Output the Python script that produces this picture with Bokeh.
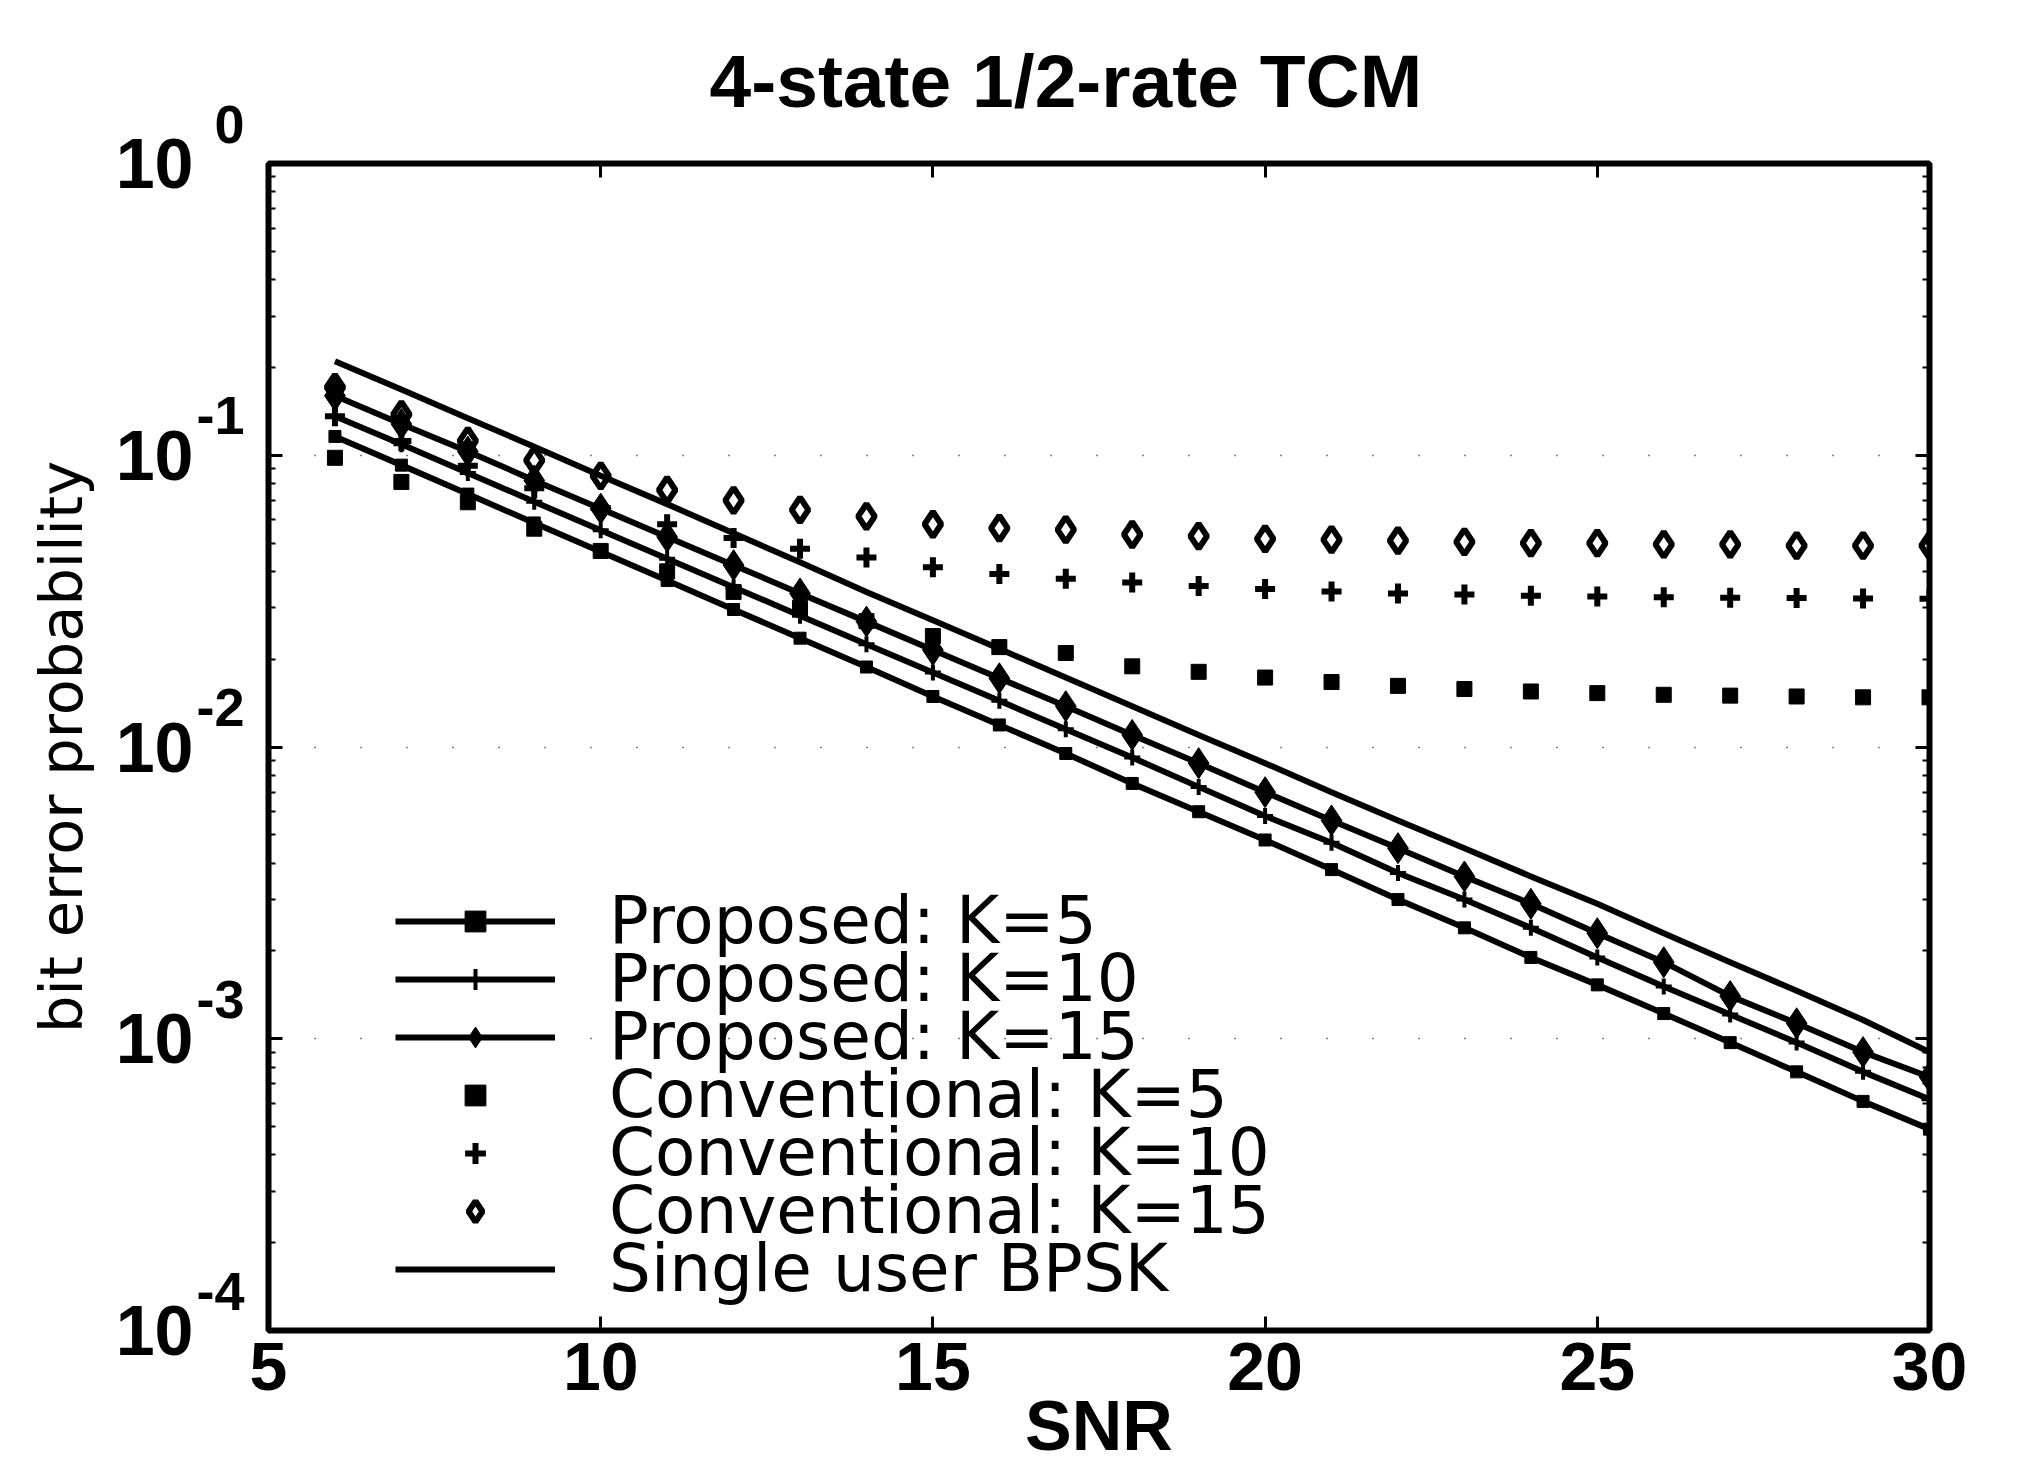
from bokeh.plotting import figure
from bokeh.models import (LinearAxis, LogAxis, FixedTicker, LogTicker,
                          Legend, LegendItem, CustomJSTickFormatter)
from bokeh.embed import file_html
from bokeh.resources import INLINE

# ---------------- data ----------------
snr = [6, 7, 8, 9, 10, 11, 12, 13, 14, 15, 16, 17, 18, 19, 20,
       21, 22, 23, 24, 25, 26, 27, 28, 29, 30]

prop_k5 = [0.116, 0.0925, 0.0736, 0.0586, 0.0467, 0.0372, 0.0296, 0.0236, 0.0188,
           0.0149, 0.0119, 0.0095, 0.0075, 0.0060, 0.0048, 0.0038, 0.0030, 0.0024,
           0.0019, 0.00153, 0.00122, 0.00097, 0.00077, 0.00061, 0.00049]
prop_k10 = [0.136, 0.109, 0.087, 0.0693, 0.0553, 0.0442, 0.0353, 0.0282, 0.0225,
            0.0180, 0.0144, 0.0115, 0.0092, 0.0073, 0.0058, 0.0047, 0.0037, 0.0030,
            0.0024, 0.0019, 0.00151, 0.00121, 0.00097, 0.00077, 0.00062]
prop_k15 = [0.160, 0.128, 0.103, 0.082, 0.0656, 0.0525, 0.0420, 0.0336, 0.0269,
            0.0215, 0.0172, 0.0138, 0.0110, 0.0088, 0.0070, 0.0056, 0.0045, 0.0036,
            0.0029, 0.0023, 0.00183, 0.00140, 0.00113, 0.00090, 0.00074]
conv_k5 = [0.098, 0.081, 0.069, 0.056, 0.047, 0.040, 0.034, 0.030, 0.027, 0.024,
           0.022, 0.021, 0.0189, 0.0181, 0.0173, 0.0167, 0.0162, 0.0158, 0.0155,
           0.0153, 0.0151, 0.0150, 0.0149, 0.0148, 0.0148]
conv_k10 = [0.136, 0.112, 0.092, 0.077, 0.066, 0.058, 0.052, 0.0478, 0.0446, 0.0413,
            0.0392, 0.0377, 0.0366, 0.0356, 0.0348, 0.0341, 0.0336, 0.0333, 0.0330,
            0.0328, 0.0326, 0.0325, 0.0324, 0.0323, 0.0322]
conv_k15 = [0.171, 0.138, 0.112, 0.096, 0.085, 0.076, 0.070, 0.065, 0.0617, 0.058,
            0.0563, 0.0556, 0.0535, 0.0528, 0.0517, 0.0514, 0.0510, 0.0505, 0.0500,
            0.0500, 0.0495, 0.0495, 0.0490, 0.0490, 0.0490]
bpsk = [0.210, 0.168, 0.134, 0.107, 0.085, 0.068, 0.054, 0.043, 0.034, 0.0272,
        0.0217, 0.0173, 0.0138, 0.0110, 0.0088, 0.0070, 0.0056, 0.0045, 0.0036,
        0.0029, 0.0023, 0.00183, 0.00146, 0.00116, 0.00090]

x_ticks = [5, 10, 15, 20, 25, 30]
y_tick_values = [1.0, 0.1, 0.01, 0.001, 0.0001]
y_tick_base = "10"
y_tick_exponents = ["0", "-1", "-2", "-3", "-4"]

title_text = "4-state 1/2-rate TCM"
x_label = "SNR"
y_label = "bit error probability"
legend_labels = ["Proposed: K=5", "Proposed: K=10", "Proposed: K=15",
                 "Conventional: K=5", "Conventional: K=10", "Conventional: K=15",
                 "Single user BPSK"]

# ---------------- figure ----------------
W, H = 2012, 1467
FL, FR, FT, FB = 268, 1929, 160, 1330          # frame edges in pixels
p = figure(width=W, height=H, x_range=(5, 30), y_range=(1e-4, 1),
           y_axis_type="log", output_backend="svg", toolbar_location=None,
           min_border_left=FL, min_border_right=W - FR, min_border_top=FT,
           min_border_bottom=H - FB, title=title_text)
p.background_fill_color = "white"
p.border_fill_color = "white"
p.outline_line_color = "black"
p.outline_line_width = 6

p.title.align = "left"
p.title.offset = 441
p.title.vertical_align = "top"
p.title.standoff = 77
p.title.text_font = "Liberation Sans"
p.title.text_font_style = "bold"
p.title.text_font_size = "75px"
p.title.text_color = "black"

blank = CustomJSTickFormatter(code="return ''")


def style_ticks(ax, minor=False):
    ax.axis_line_color = None
    ax.major_tick_in = 14
    ax.major_tick_out = 0
    ax.major_tick_line_width = 3
    ax.major_tick_line_color = "black"
    if minor:
        ax.minor_tick_in = 7
        ax.minor_tick_out = 0
        ax.minor_tick_line_width = 2
        ax.minor_tick_line_color = "black"
    else:
        ax.minor_tick_line_color = None


def hide_labels(ax):
    ax.formatter = blank
    ax.major_label_text_font_size = "1px"
    ax.major_label_standoff = 0


# bottom axis
xb = p.xaxis[0]
xb.ticker = FixedTicker(ticks=x_ticks, minor_ticks=[])
style_ticks(xb)
xb.major_label_text_font = "Liberation Sans"
xb.major_label_text_font_style = "bold"
xb.major_label_text_font_size = "68px"
xb.major_label_text_color = "black"
xb.major_label_standoff = 12
xb.axis_label = x_label
xb.axis_label_text_font = "Liberation Sans"
xb.axis_label_text_font_style = "bold"
xb.axis_label_text_font_size = "70px"
xb.axis_label_text_color = "black"
xb.axis_label_standoff = -6

# inner left axis: ticks + exponents (raised by a blank second line)
yl = p.yaxis[0]
yl.ticker = LogTicker(num_minor_ticks=10)
style_ticks(yl, minor=True)
yl.formatter = CustomJSTickFormatter(args=dict(vals=y_tick_values, labs=y_tick_exponents), code="""
    const k = Math.round(Math.log10(tick));
    for (let i = 0; i < vals.length; i++) {
        if (Math.round(Math.log10(vals[i])) == k) { return labs[i] + "\\n\\u00a0"; }
    }
    return "";
""")
yl.major_label_text_font = "Liberation Sans"
yl.major_label_text_font_style = "bold"
yl.major_label_text_font_size = "54px"
yl.major_label_text_line_height = 1.33
yl.major_label_text_color = "black"
yl.major_label_standoff = 24

# outer left axis: the "10" bases and the axis title
yb = LogAxis(ticker=FixedTicker(ticks=y_tick_values, minor_ticks=[]),
             formatter=CustomJSTickFormatter(args=dict(base=y_tick_base), code="return base;"))
yb.axis_line_color = None
yb.major_tick_line_color = None
yb.minor_tick_line_color = None
yb.major_tick_in = 0
yb.major_tick_out = 0
yb.major_label_text_font = "Liberation Sans"
yb.major_label_text_font_style = "bold"
yb.major_label_text_font_size = "70px"
yb.major_label_text_color = "black"
yb.major_label_standoff = 0
yb.axis_label = y_label
yb.axis_label_text_font = "DejaVu Sans"
yb.axis_label_text_font_style = "normal"
yb.axis_label_text_font_size = "59px"
yb.axis_label_text_color = "black"
yb.axis_label_standoff = 17
p.add_layout(yb, "left")

# mirrored top / right axes (ticks only)
xt = LinearAxis(ticker=FixedTicker(ticks=x_ticks, minor_ticks=[]))
style_ticks(xt)
hide_labels(xt)
p.add_layout(xt, "above")
yr = LogAxis(ticker=LogTicker(num_minor_ticks=10))
style_ticks(yr, minor=True)
hide_labels(yr)
p.add_layout(yr, "right")

p.xgrid.grid_line_color = None
p.ygrid.grid_line_color = "black"
p.ygrid.grid_line_width = 1.5
p.ygrid.grid_line_dash = "1 45"

# ---------------- data marks ----------------
lw = 6
r_bpsk = p.line(snr, bpsk, line_width=lw, color="black", line_join="round")
l15 = p.line(snr, prop_k15, line_width=lw, color="black", line_join="round")
l10 = p.line(snr, prop_k10, line_width=lw, color="black", line_join="round")
l5 = p.line(snr, prop_k5, line_width=lw, color="black", line_join="round")

s15 = p.scatter(snr, prop_k15, marker="diamond", size=31, fill_color="black", line_color="black")
s10 = p.scatter(snr, prop_k10, marker="cross", size=16, line_width=4, line_color="black")
s5 = p.scatter(snr, prop_k5, marker="square", size=12, fill_color="black", line_color="black")

c5 = p.scatter(snr, conv_k5, marker="square", size=15, fill_color="black", line_color="black")
c10 = p.scatter(snr, conv_k10, marker="cross", size=20, line_width=6, line_color="black")
c15 = p.scatter(snr, conv_k15, marker="diamond", size=25, fill_color=None,
                line_color="black", line_width=6)

# ---------------- legend: one box per row so the rows sit 58 px apart ----------------
row_renderers = [[l5, s5], [l10, s10], [l15, s15], [c5], [c10], [c15], [r_bpsk]]
first_row_center = 923      # pixels from top of canvas
row_pitch = 58
box_half = 36
for i, (lab, rends) in enumerate(zip(legend_labels, row_renderers)):
    centre = first_row_center + i * row_pitch
    lg = Legend(items=[LegendItem(label=lab, renderers=rends)],
                location=(127, FB - centre - box_half),
                glyph_width=160, glyph_height=52, label_height=52, label_standoff=54,
                spacing=0, padding=0, margin=0,
                border_line_color=None, background_fill_alpha=0,
                label_text_font="DejaVu Sans", label_text_font_size="66px",
                label_text_color="black")
    p.add_layout(lg)

open("out.html", "w").write(file_html(p, INLINE))
